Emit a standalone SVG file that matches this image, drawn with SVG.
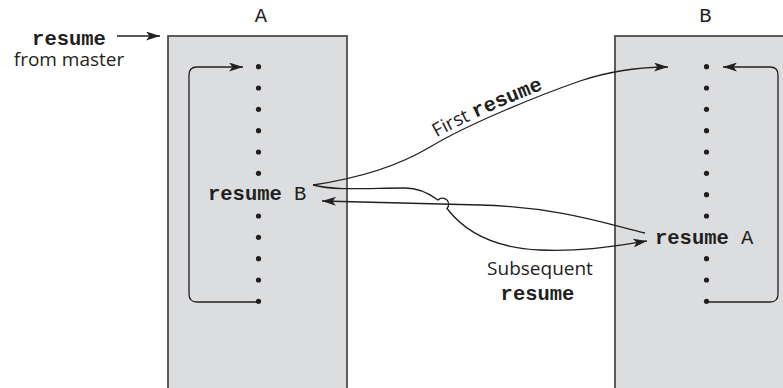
<svg xmlns="http://www.w3.org/2000/svg" width="783" height="388" viewBox="0 0 783 388">
<style>
.box{fill:#dcdddf;stroke:#4d4d4f;stroke-width:1.8}
.dot{fill:#231f20}
.ln{fill:none;stroke:#231f20;stroke-width:1.3}
.mono{font-family:"Liberation Mono","DejaVu Sans Mono",monospace;font-size:20.5px;fill:#231f20}
.b{font-weight:bold}
.sans{font-family:"Open Sans","Noto Sans",sans-serif;font-size:19px;fill:#231f20}
</style>
<defs>
<marker id="ah" markerUnits="userSpaceOnUse" viewBox="0 0 14 9" refX="14" refY="4.5" markerWidth="14" markerHeight="9" orient="auto">
<path d="M0,0 L14,4.5 L0,9 L3.5,4.5 Z" fill="#231f20"/>
</marker>
<path id="tp" d="M428,142.5 C468,118.5 538,90.5 578,76.5"/>
</defs>
<g id="nodeA">
<rect class="box" x="168" y="36" width="179" height="370"/>
<g class="dot">
<circle cx="258.5" cy="66.7" r="2.6"/><circle cx="258.5" cy="88" r="2.6"/><circle cx="258.5" cy="109.3" r="2.6"/><circle cx="258.5" cy="130.7" r="2.6"/><circle cx="258.5" cy="152" r="2.6"/><circle cx="258.5" cy="173.3" r="2.6"/><circle cx="258.5" cy="216" r="2.6"/><circle cx="258.5" cy="237.3" r="2.6"/><circle cx="258.5" cy="258.7" r="2.6"/><circle cx="258.5" cy="280" r="2.6"/><circle cx="258.5" cy="301.3" r="2.6"/>
</g>
<text class="mono" x="208" y="200"><tspan class="b">resume</tspan> B</text>
<text class="mono" x="261" y="21.5" text-anchor="middle">A</text>
</g>
<g id="nodeB">
<rect class="box" x="615" y="36" width="200" height="370"/>
<g class="dot">
<circle cx="706.5" cy="66.7" r="2.6"/><circle cx="706.5" cy="88" r="2.6"/><circle cx="706.5" cy="109.3" r="2.6"/><circle cx="706.5" cy="130.7" r="2.6"/><circle cx="706.5" cy="152" r="2.6"/><circle cx="706.5" cy="173.3" r="2.6"/><circle cx="706.5" cy="194.7" r="2.6"/><circle cx="706.5" cy="216" r="2.6"/><circle cx="706.5" cy="258.7" r="2.6"/><circle cx="706.5" cy="280" r="2.6"/><circle cx="706.5" cy="301.3" r="2.6"/>
</g>
<text class="mono" x="655" y="243.5"><tspan class="b">resume</tspan> A</text>
<text class="mono" x="705.5" y="21.5" text-anchor="middle">B</text>
</g>
<g id="master">
<text class="mono b" x="69" y="45" text-anchor="middle">resume</text>
<text class="sans" x="69" y="66" text-anchor="middle">from master</text>
</g>
<g id="connectors">
<path class="ln" marker-end="url(#ah)" d="M117,36 L160,36"/>
<path class="ln" marker-end="url(#ah)" d="M258.5,302 L197,302 Q189,302 189,294 L189,75 Q189,67 197,67 L243,67"/>
<path class="ln" marker-end="url(#ah)" d="M706.5,302 L770,302 Q778,302 778,294 L778,75 Q778,67 770,67 L723,67"/>
<path class="ln" marker-end="url(#ah)" d="M313,185 C360,178 400,165 430,147 C470,123 540,95 580,81 C610,71 640,67 668,67"/>
<path class="ln" marker-end="url(#ah)" d="M313,185 C335,191 370,188 405,188 C420,188 430,194 438,200 A6.1,6.1 0 0 1 447,208.5 C465,232 495,248 540,250 C585,252 620,245 647,241"/>
<path class="ln" marker-end="url(#ah)" d="M645,233 C610,225 560,207 480,205 L322,201"/>
<text class="sans"><textPath href="#tp" startOffset="10">First <tspan class="mono b" style="font-size:20.5px">resume</tspan></textPath></text>
<text class="sans" x="540" y="275" text-anchor="middle">Subsequent</text>
<text class="mono b" x="537.5" y="300" text-anchor="middle">resume</text>
</g>
</svg>
